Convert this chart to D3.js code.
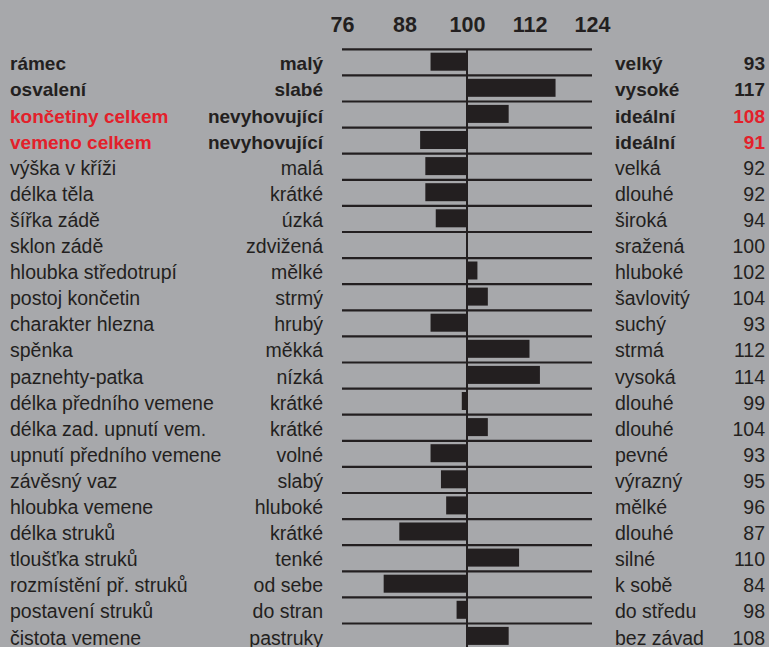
<!DOCTYPE html>
<html>
<head>
<meta charset="utf-8">
<script src="https://cdn.jsdelivr.net/npm/d3@7"></script>
<style>
  html, body { margin: 0; padding: 0; background: #a7a8ab; }
  svg { display: block; }
  text { font-family: "Liberation Sans", Arial, sans-serif; fill: #231f20; }
</style>
</head>
<body>
<div class="chart"></div>
<script>
(function() {
var W = 769, H = 647;

// traits (left label), low end, high end, value
const traits = ['rámec', 'osvalení', 'končetiny celkem', 'vemeno celkem', 'výška v kříži', 'délka těla',
  'šířka zádě', 'sklon zádě', 'hloubka středotrupí', 'postoj končetin', 'charakter hlezna', 'spěnka',
  'paznehty-patka', 'délka předního vemene', 'délka zad. upnutí vem.', 'upnutí předního vemene',
  'závěsný vaz', 'hloubka vemene', 'délka struků', 'tloušťka struků', 'rozmístění př. struků',
  'postavení struků', 'čistota vemene']
const lowLabels = ['malý', 'slabé', 'nevyhovující', 'nevyhovující', 'malá', 'krátké', 'úzká', 'zdvižená',
  'mělké', 'strmý', 'hrubý', 'měkká', 'nízká', 'krátké', 'krátké', 'volné', 'slabý', 'hluboké',
  'krátké', 'tenké', 'od sebe', 'do stran', 'pastruky']
const highLabels = ['velký', 'vysoké', 'ideální', 'ideální', 'velká', 'dlouhé', 'široká', 'sražená',
  'hluboké', 'šavlovitý', 'suchý', 'strmá', 'vysoká', 'dlouhé', 'dlouhé', 'pevné', 'výrazný', 'mělké',
  'dlouhé', 'silné', 'k sobě', 'do středu', 'bez závad']
const values = [93, 117, 108, 91, 92, 92, 94, 100, 102, 104, 93, 112, 114, 99, 104, 93, 95, 96, 87, 110, 84, 98, 108]
const ticks = [76, 88, 100, 112, 124]
const boldRows = [0, 1, 2, 3]
const redRows = [2, 3]

const data = traits.map((t, i) => ({ trait: t, low: lowLabels[i], high: highLabels[i], value: values[i], i: i }))

var svg = d3.select(".chart").append("svg").attr("width", W).attr("height", H)

var rowH = 26.1, top = 49.3
var x = d3.scaleLinear().domain([76, 124]).range([342, 592])
var y = d3.scaleBand().domain(d3.range(data.length)).range([top, top + rowH * data.length]).padding(0)

var ink = "#231f20", red = "#e3202a"

// top axis with tick labels only
var axis = svg.append("g")
    .attr("transform", "translate(0,32)")
    .attr("font-size", null)
    .call(d3.axisTop(x).tickValues(ticks).tickSize(0).tickPadding(0))
axis.select(".domain").remove()
axis.selectAll("text")
    .style("font-family", '"Liberation Sans", Arial, sans-serif')
    .style("font-size", "21.5px")
    .style("font-weight", "bold")
    .attr("fill", ink)
    .attr("dy", 0)

// row separator lines
svg.selectAll(".sep")
    .data(data)
    .enter().append("line")
    .attr("class", "sep")
    .attr("x1", x(76)).attr("x2", x(124))
    .attr("y1", (d) => y(d.i)).attr("y2", (d) => y(d.i))
    .attr("stroke", ink)
    .attr("stroke-width", 2.2)

// bars from 100
svg.selectAll(".bar")
    .data(data)
    .enter().append("rect")
    .attr("class", "bar")
    .attr("x", (d) => x(Math.min(d.value, 100)))
    .attr("width", (d) => Math.abs(x(d.value) - x(100)))
    .attr("y", (d) => y(d.i) + 3.4)
    .attr("height", 18)
    .attr("fill", ink)

// center line at 100
svg.append("line")
    .attr("x1", x(100)).attr("x2", x(100))
    .attr("y1", top).attr("y2", H)
    .attr("stroke", ink)
    .attr("stroke-width", 2)

var isBold = (d) => boldRows.indexOf(d.i) >= 0
var isRed = (d) => redRows.indexOf(d.i) >= 0

var rows = svg.selectAll(".row")
    .data(data)
    .enter().append("g")
    .attr("class", "row")
    .attr("transform", (d) => "translate(0," + (y(d.i) + 21) + ")")
    .style("font-size", (d) => isBold(d) ? "19px" : "19.5px")
    .style("font-weight", (d) => isBold(d) ? "bold" : "normal")

rows.append("text")
    .attr("x", 10)
    .style("fill", (d) => isRed(d) ? red : ink)
    .text((d) => d.trait)

rows.append("text")
    .attr("x", 323)
    .attr("text-anchor", "end")
    .text((d) => d.low)

rows.append("text")
    .attr("x", 615)
    .text((d) => d.high)

rows.append("text")
    .attr("x", 765)
    .attr("text-anchor", "end")
    .style("fill", (d) => isRed(d) ? red : ink)
    .text((d) => d.value)
}())
</script>
</body>
</html>
